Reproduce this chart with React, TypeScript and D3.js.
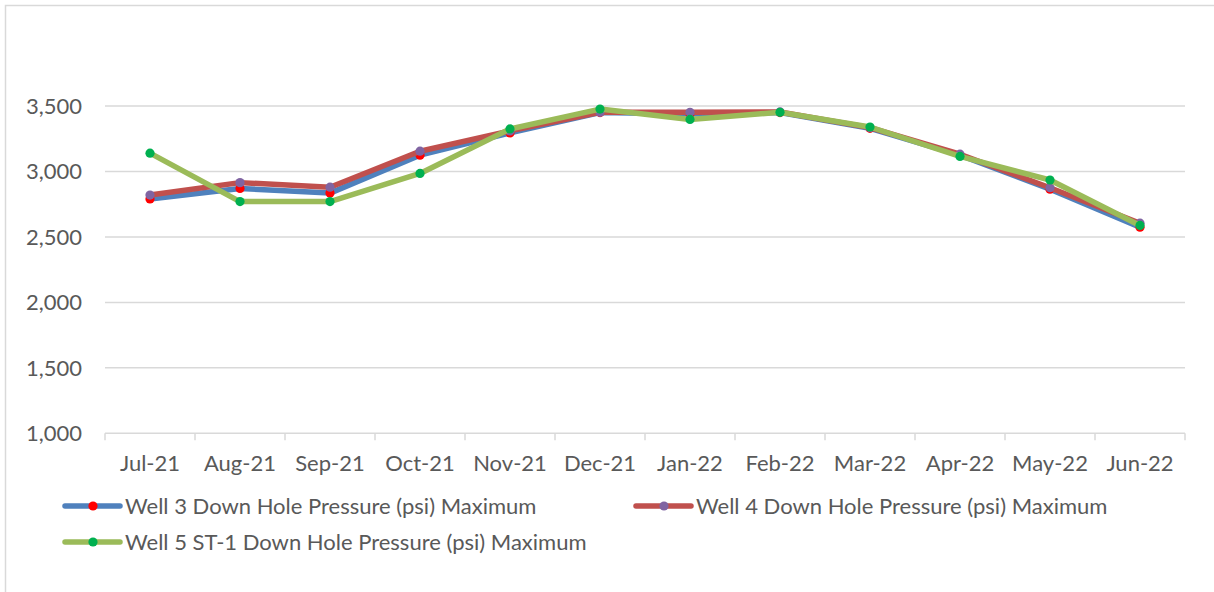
import React from "react";
import * as d3 from "d3";

const months = ["Jul-21", "Aug-21", "Sep-21", "Oct-21", "Nov-21", "Dec-21", "Jan-22", "Feb-22", "Mar-22", "Apr-22", "May-22", "Jun-22"];
const well3 = [2790, 2870, 2835, 3125, 3295, 3450, 3440, 3450, 3330, 3125, 2865, 2575];
const well4 = [2820, 2915, 2880, 3155, 3310, 3452, 3452, 3455, 3335, 3132, 2876, 2605];
const well5 = [3140, 2770, 2770, 2985, 3325, 3477, 3398, 3452, 3340, 3115, 2935, 2588];
const yTicks = [1000, 1500, 2000, 2500, 3000, 3500];
const seriesNames = [
  "Well 3 Down Hole Pressure (psi) Maximum",
  "Well 4 Down Hole Pressure (psi) Maximum",
  "Well 5 ST-1 Down Hole Pressure (psi) Maximum",
];

const W = 1214;
const H = 592;
const FONT = "Lato, 'Open Sans', sans-serif";
const TEXT = "#595959";
const GRID = "#d9d9d9";
const FS = 22;

export default function App() {
  const x = d3.scaleBand<string>().domain(months).range([105, 1185]).padding(0);
  const y = d3.scaleLinear().domain([1000, 4000]).range([433.3, 40.6]);
  const cx = (m: string) => (x(m) as number) + x.bandwidth() / 2;

  const series = [
    { name: seriesNames[0], values: well3, line: "#4F81BD", marker: "#FF0000" },
    { name: seriesNames[1], values: well4, line: "#C0504D", marker: "#8064A2" },
    { name: seriesNames[2], values: well5, line: "#9BBB59", marker: "#00B050" },
  ];

  const lineGen = d3
    .line<number>()
    .x((_, i) => cx(months[i]))
    .y((v) => y(v));

  const tickXs = [...months.map((m) => x(m) as number), 1185];

  const legendItems = [
    { s: series[0], lx: 65, ly: 506 },
    { s: series[1], lx: 636, ly: 506 },
    { s: series[2], lx: 65, ly: 542 },
  ];

  return (
    <svg
      width={W}
      height={H}
      style={{ position: "absolute", left: 0, top: 0, background: "#fff" }}
      fontFamily={FONT}
    >
      <rect x={5.5} y={5.5} width={W + 10} height={H + 10} fill="#fff" stroke={GRID} strokeWidth={1.5} />
      {yTicks.slice(1).map((t) => (
        <line key={t} x1={105} x2={1185} y1={y(t)} y2={y(t)} stroke={GRID} strokeWidth={1.5} />
      ))}
      <line x1={105} x2={1185} y1={y(1000)} y2={y(1000)} stroke={GRID} strokeWidth={1.5} />
      {tickXs.map((tx, i) => (
        <line key={i} x1={tx} x2={tx} y1={y(1000)} y2={y(1000) + 7} stroke={GRID} strokeWidth={1.5} />
      ))}
      {yTicks.map((t) => (
        <text key={t} x={82} y={y(t)} dy="0.35em" textAnchor="end" fontSize={FS} fill={TEXT}>
          {d3.format(",")(t)}
        </text>
      ))}
      {months.map((m) => (
        <text key={m} x={cx(m)} y={463} dy="0.35em" textAnchor="middle" fontSize={FS} fill={TEXT}>
          {m}
        </text>
      ))}
      {series.map((s) => (
        <g key={s.name}>
          <path
            d={lineGen(s.values) || ""}
            fill="none"
            stroke={s.line}
            strokeWidth={5.5}
            strokeLinejoin="round"
            strokeLinecap="round"
          />
          {s.values.map((v, i) => (
            <circle key={i} cx={cx(months[i])} cy={y(v)} r={4.6} fill={s.marker} />
          ))}
        </g>
      ))}
      {legendItems.map(({ s, lx, ly }) => (
        <g key={s.name}>
          <line x1={lx} x2={lx + 55} y1={ly} y2={ly} stroke={s.line} strokeWidth={5.5} strokeLinecap="round" />
          <circle cx={lx + 28} cy={ly} r={4.6} fill={s.marker} />
          <text x={lx + 60} y={ly} dy="0.35em" fontSize={FS} fill={TEXT}>
            {s.name}
          </text>
        </g>
      ))}
    </svg>
  );
}
